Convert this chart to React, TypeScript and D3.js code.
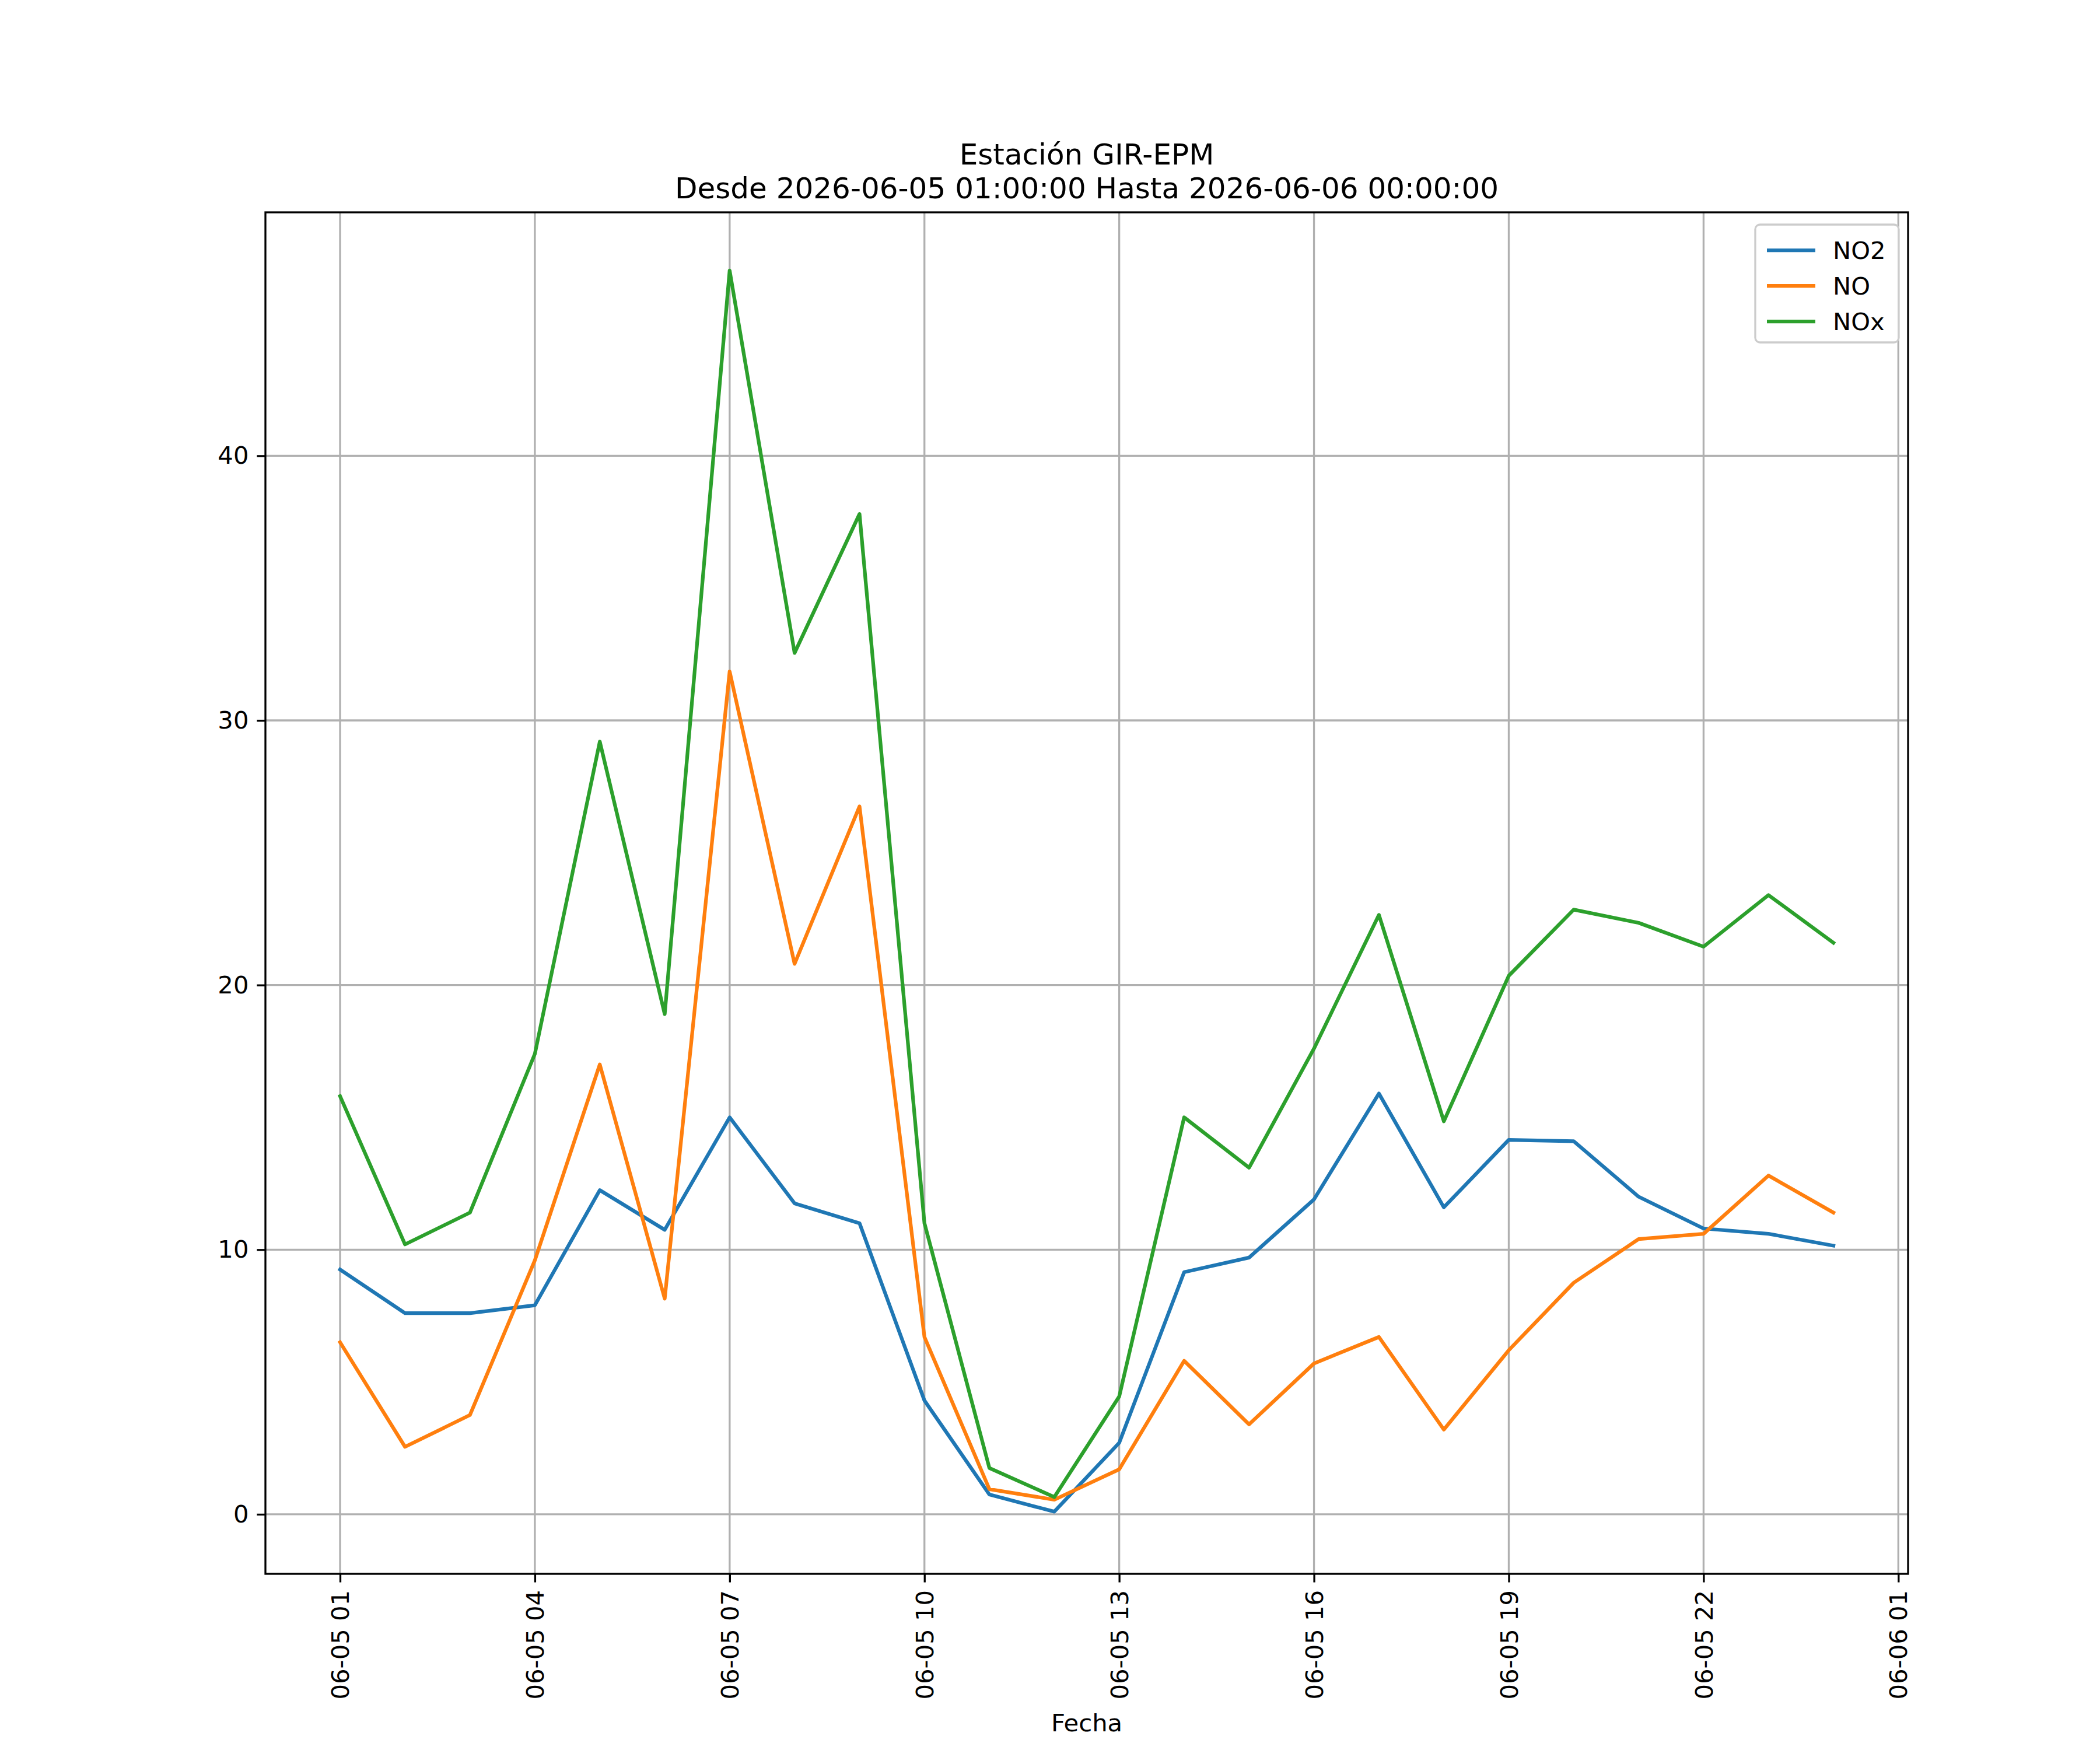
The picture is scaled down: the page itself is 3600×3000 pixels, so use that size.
import React, { useRef, useEffect } from 'react';
import * as d3 from 'd3';

const hours = ['01','02','03','04','05','06','07','08','09','10','11','12','13','14','15','16','17','18','19','20','21','22','23','00'];
const no2 = [9.25, 7.6, 7.6, 7.9, 12.25, 10.75, 15.0, 11.75, 11.0, 4.3, 0.75, 0.1, 2.7, 9.15, 9.7, 11.9, 15.9, 11.6, 14.15, 14.1, 12.0, 10.8, 10.6, 10.15];
const no = [6.5, 2.55, 3.75, 9.6, 17.0, 8.15, 31.85, 20.8, 26.75, 6.7, 0.95, 0.55, 1.7, 5.8, 3.4, 5.7, 6.7, 3.2, 6.2, 8.75, 10.4, 10.6, 12.8, 11.4];
const nox = [15.8, 10.2, 11.4, 17.4, 29.2, 18.9, 47.0, 32.55, 37.8, 11.0, 1.75, 0.65, 4.45, 15.0, 13.1, 17.6, 22.65, 14.85, 20.35, 22.85, 22.35, 21.45, 23.4, 21.6];
const series = [
  { name: 'NO2', values: no2, color: '#1f77b4' },
  { name: 'NO', values: no, color: '#ff7f0e' },
  { name: 'NOx', values: nox, color: '#2ca02c' },
];
const yTicks = [0, 10, 20, 30, 40];
const xTickHours = [0, 3, 6, 9, 12, 15, 18, 21, 24];
const xTickLabels = ['06-05 01','06-05 04','06-05 07','06-05 10','06-05 13','06-05 16','06-05 19','06-05 22','06-06 01'];

const W = 3600, H = 3000;
const margin = { left: 455, right: 3271, top: 364, bottom: 2698 };
const font = 'DejaVu Sans';

const App: React.FC = () => {
  const ref = useRef<SVGSVGElement | null>(null);

  useEffect(() => {
    if (!ref.current) return;
    const svg = d3.select(ref.current);
    svg.selectAll('*').remove();

    const x = d3.scaleLinear().domain([-1.15, 24.15]).range([margin.left, margin.right]);
    const y = d3.scaleLinear().domain([-2.25, 49.2]).range([margin.bottom, margin.top]);

    svg.append('rect').attr('width', W).attr('height', H).attr('fill', '#fff');

    // grid
    const grid = svg.append('g').attr('stroke', '#b0b0b0').attr('stroke-width', 3.3);
    xTickHours.forEach((h) => {
      grid.append('line').attr('x1', x(h)).attr('x2', x(h)).attr('y1', margin.top).attr('y2', margin.bottom);
    });
    yTicks.forEach((v) => {
      grid.append('line').attr('x1', margin.left).attr('x2', margin.right).attr('y1', y(v)).attr('y2', y(v));
    });

    // lines
    series.forEach((s) => {
      svg.append('path')
        .datum(s.values)
        .attr('fill', 'none')
        .attr('stroke', s.color)
        .attr('stroke-width', 6.25)
        .attr('stroke-linejoin', 'round')
        .attr('stroke-linecap', 'square')
        .attr('d', d3.line<number>().x((_, i) => x(i)).y((d) => y(d)));
    });

    // frame
    svg.append('rect')
      .attr('x', margin.left).attr('y', margin.top)
      .attr('width', margin.right - margin.left).attr('height', margin.bottom - margin.top)
      .attr('fill', 'none').attr('stroke', '#000').attr('stroke-width', 3.3);

    // axes
    const xAxis = svg.append('g')
      .attr('transform', `translate(0,${margin.bottom})`)
      .call(d3.axisBottom(x).tickValues(xTickHours).tickSize(14.6).tickPadding(14)
        .tickFormat((_, i) => xTickLabels[i]));
    xAxis.select('.domain').remove();
    xAxis.selectAll('line').attr('stroke-width', 3.3);
    xAxis.selectAll('text')
      .attr('font-family', font).attr('font-size', 41.7).attr('fill', '#000')
      .attr('text-anchor', 'end').attr('dy', '0.35em')
      .attr('transform', 'translate(0,28) rotate(-90)')
      .attr('x', 0).attr('y', 0);

    const yAxis = svg.append('g')
      .attr('transform', `translate(${margin.left},0)`)
      .call(d3.axisLeft(y).tickValues(yTicks).tickSize(14.6).tickPadding(14));
    yAxis.select('.domain').remove();
    yAxis.selectAll('line').attr('stroke-width', 3.3);
    yAxis.selectAll('text').attr('font-family', font).attr('font-size', 41.7).attr('fill', '#000');

    // titles
    const cx = (margin.left + margin.right) / 2;
    svg.append('text').attr('x', cx).attr('y', 282).attr('text-anchor', 'middle')
      .attr('font-family', font).attr('font-size', 50).text('Estación GIR-EPM');
    svg.append('text').attr('x', cx).attr('y', 340).attr('text-anchor', 'middle')
      .attr('font-family', font).attr('font-size', 50).text('Desde 2026-06-05 01:00:00 Hasta 2026-06-06 00:00:00');
    svg.append('text').attr('x', cx).attr('y', 2968).attr('text-anchor', 'middle')
      .attr('font-family', font).attr('font-size', 41.7).text('Fecha');

    // legend
    const lg = svg.append('g').attr('transform', 'translate(3009,385)');
    lg.append('rect').attr('width', 246).attr('height', 202).attr('rx', 8)
      .attr('fill', '#fff').attr('fill-opacity', 0.8).attr('stroke', '#cccccc').attr('stroke-width', 3.3);
    series.forEach((s, i) => {
      const yy = 44 + i * 61;
      lg.append('line').attr('x1', 20).attr('x2', 103).attr('y1', yy).attr('y2', yy)
        .attr('stroke', s.color).attr('stroke-width', 6.25);
      lg.append('text').attr('x', 133).attr('y', yy).attr('dy', '0.35em')
        .attr('font-family', font).attr('font-size', 41.7).text(s.name);
    });
  }, []);

  return <svg ref={ref} width={W} height={H} style={{ position: 'absolute', left: 0, top: 0 }} />;
};

export default App;
